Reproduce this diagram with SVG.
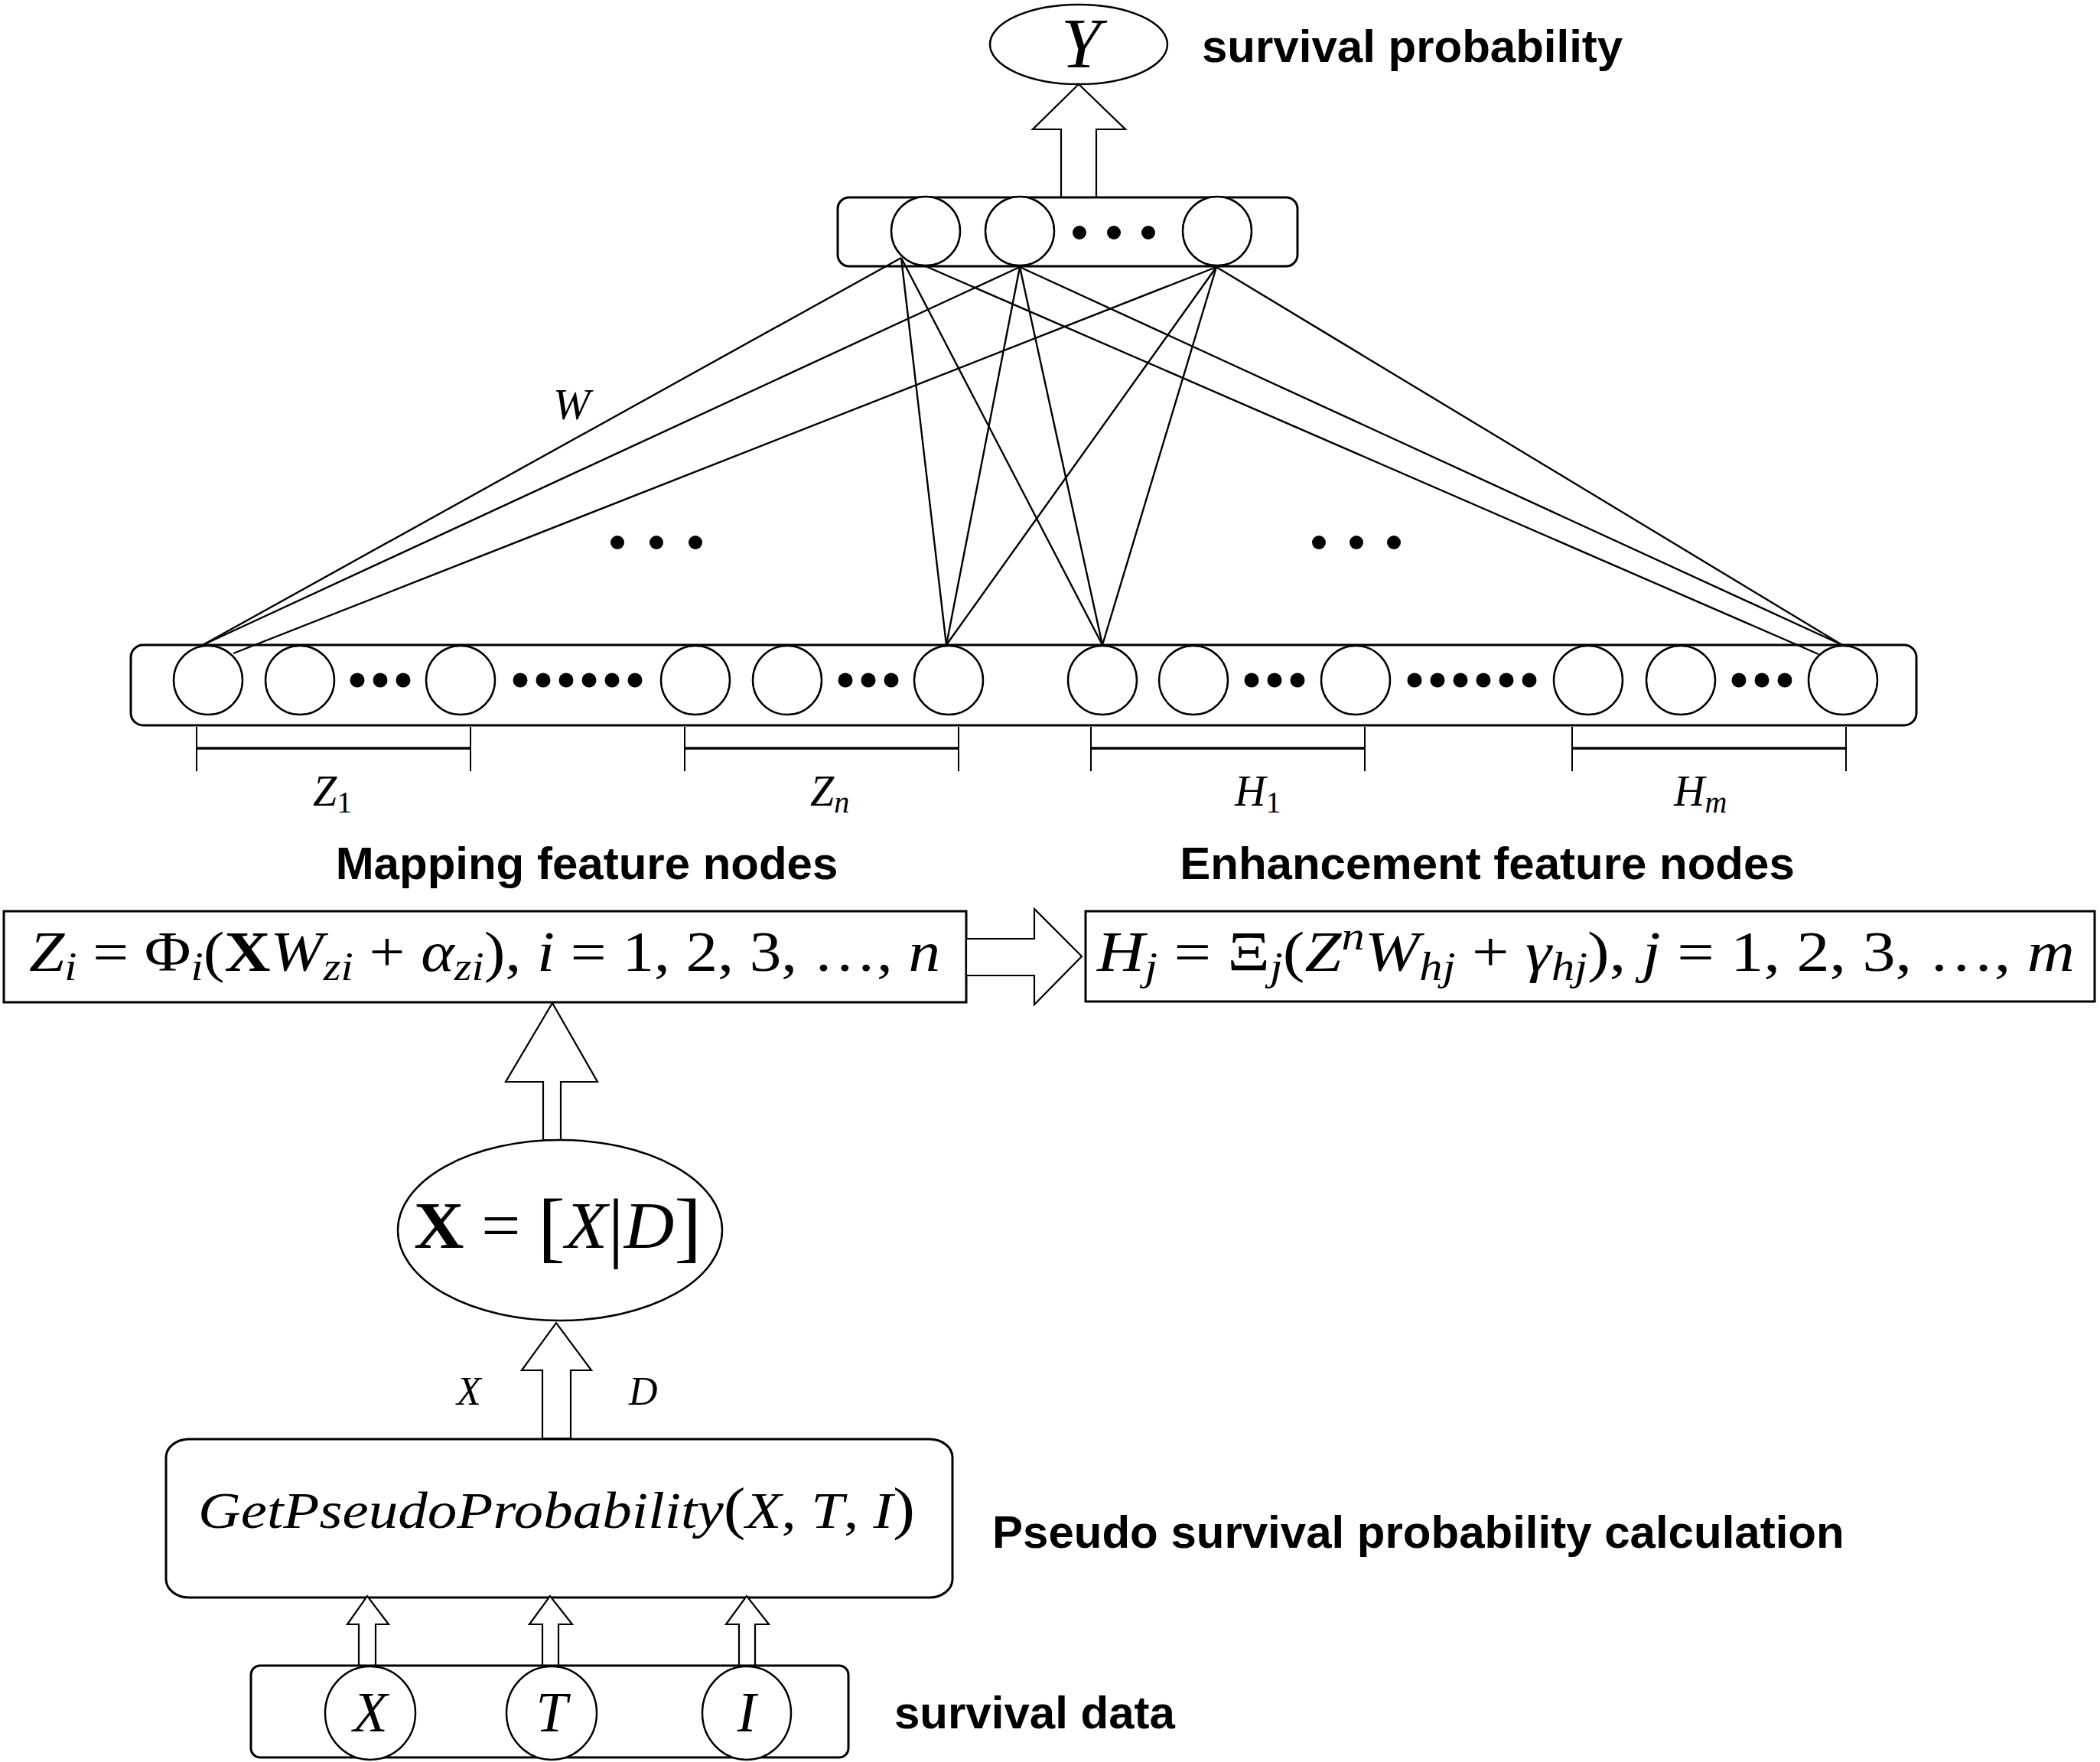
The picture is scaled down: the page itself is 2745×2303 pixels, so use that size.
<svg xmlns="http://www.w3.org/2000/svg" width="2745" height="2303" viewBox="0 0 2745 2303">
<style>
.bg{fill:#fff}
.box{fill:none;stroke:#000;stroke-width:3}
.node{fill:#fff;stroke:#000;stroke-width:2.5}
.dot{fill:#000}
.conn line{stroke:#000;stroke-width:2.4}
.arr{fill:#fff;stroke:#000;stroke-width:2.2;stroke-linejoin:miter}
.br{stroke:#000;stroke-width:2;fill:none}
.brh{stroke:#000;stroke-width:3.5}
.lbl{font-family:"Liberation Sans",Arial,sans-serif;font-weight:bold;font-size:60px;fill:#000}
.m{font-family:"Liberation Serif","Times New Roman",serif;fill:#000}
.it{font-style:italic}
</style>
<rect class="bg" x="0" y="0" width="2745" height="2303"/>

<g id="connectors" class="conn">
<line x1="1178" y1="337" x2="265" y2="843"/>
<line x1="1178" y1="337" x2="1237" y2="843"/>
<line x1="1178" y1="337" x2="1441" y2="843"/>
<line x1="1210" y1="348" x2="2377" y2="855"/>
<line x1="1333" y1="349" x2="265" y2="843"/>
<line x1="1333" y1="349" x2="1237" y2="843"/>
<line x1="1333" y1="349" x2="1441" y2="843"/>
<line x1="1333" y1="349" x2="2408" y2="843"/>
<line x1="1590" y1="349" x2="305" y2="854"/>
<line x1="1590" y1="349" x2="1237" y2="843"/>
<line x1="1590" y1="349" x2="1441" y2="843"/>
<line x1="1590" y1="349" x2="2408" y2="843"/>
</g>

<g id="connection-dots">
<circle class="dot" cx="807" cy="709" r="9"/>
<circle class="dot" cx="858" cy="709" r="9"/>
<circle class="dot" cx="909" cy="709" r="9"/>
<circle class="dot" cx="1724" cy="709" r="9"/>
<circle class="dot" cx="1773" cy="709" r="9"/>
<circle class="dot" cx="1822" cy="709" r="9"/>
<text class="m it" x="723" y="548" font-size="58">W</text>
</g>

<g id="output-Y">
<ellipse class="node" cx="1410" cy="58" rx="116" ry="52"/>
<text class="m it" x="1413" y="88" font-size="94" text-anchor="middle">Y</text>
<text class="lbl" x="1571" y="81">survival probability</text>
</g>

<g id="arrow-to-Y">
<polygon class="arr" points="1387,258 1387,169 1350,169 1410,110 1471,169 1433,169 1433,258"/>
</g>

<g id="output-layer">
<rect class="box" x="1095" y="258" width="601" height="90" rx="15"/>
<circle class="node" cx="1210" cy="302" r="45"/>
<circle class="node" cx="1333" cy="302" r="45"/>
<circle class="node" cx="1591" cy="302" r="45"/>
<circle class="dot" cx="1411" cy="304" r="9"/>
<circle class="dot" cx="1456" cy="304" r="9"/>
<circle class="dot" cx="1501" cy="304" r="9"/>
</g>

<g id="feature-layer">
<rect class="box" x="171" y="843" width="2334" height="105" rx="16"/>
<circle class="node" cx="272" cy="889" r="45"/>
<circle class="node" cx="392" cy="889" r="45"/>
<circle class="node" cx="602" cy="889" r="45"/>
<circle class="node" cx="909" cy="889" r="45"/>
<circle class="node" cx="1029" cy="889" r="45"/>
<circle class="node" cx="1240" cy="889" r="45"/>
<circle class="node" cx="1441" cy="889" r="45"/>
<circle class="node" cx="1560" cy="889" r="45"/>
<circle class="node" cx="1772" cy="889" r="45"/>
<circle class="node" cx="2076" cy="889" r="45"/>
<circle class="node" cx="2197" cy="889" r="45"/>
<circle class="node" cx="2409" cy="889" r="45"/>
<g>
<circle class="dot" cx="467" cy="889" r="9.5"/><circle class="dot" cx="497" cy="889" r="9.5"/><circle class="dot" cx="527" cy="889" r="9.5"/>
<circle class="dot" cx="680" cy="889" r="9.5"/><circle class="dot" cx="710" cy="889" r="9.5"/><circle class="dot" cx="740" cy="889" r="9.5"/><circle class="dot" cx="770" cy="889" r="9.5"/><circle class="dot" cx="800" cy="889" r="9.5"/><circle class="dot" cx="830" cy="889" r="9.5"/>
<circle class="dot" cx="1105" cy="889" r="9.5"/><circle class="dot" cx="1135" cy="889" r="9.5"/><circle class="dot" cx="1165" cy="889" r="9.5"/>
<circle class="dot" cx="1636" cy="889" r="9.5"/><circle class="dot" cx="1666" cy="889" r="9.5"/><circle class="dot" cx="1696" cy="889" r="9.5"/>
<circle class="dot" cx="1849" cy="889" r="9.5"/><circle class="dot" cx="1879" cy="889" r="9.5"/><circle class="dot" cx="1909" cy="889" r="9.5"/><circle class="dot" cx="1939" cy="889" r="9.5"/><circle class="dot" cx="1969" cy="889" r="9.5"/><circle class="dot" cx="1999" cy="889" r="9.5"/>
<circle class="dot" cx="2273" cy="889" r="9.5"/><circle class="dot" cx="2303" cy="889" r="9.5"/><circle class="dot" cx="2333" cy="889" r="9.5"/>
</g>
</g>

<g id="brackets">
<path class="br" d="M257,950 V1008 M615,950 V1008 M895,950 V1008 M1253,950 V1008 M1426,950 V1008 M1784,950 V1008 M2055,950 V1008 M2413,950 V1008"/>
<path class="brh" d="M257,978 H615 M895,978 H1253 M1426,978 H1784 M2055,978 H2413"/>
<text class="m it" x="409" y="1053" font-size="56">Z<tspan font-style="normal" font-size="40" dy="9">1</tspan></text>
<text class="m it" x="1059" y="1053" font-size="56">Z<tspan font-size="40" dy="9">n</tspan></text>
<text class="m it" x="1614" y="1053" font-size="56">H<tspan font-style="normal" font-size="40" dy="9">1</tspan></text>
<text class="m it" x="2188" y="1053" font-size="56">H<tspan font-size="40" dy="9">m</tspan></text>
</g>

<g id="labels">
<text class="lbl" x="767" y="1149" text-anchor="middle">Mapping feature nodes</text>
<text class="lbl" x="1944" y="1149" text-anchor="middle">Enhancement feature nodes</text>
</g>

<g id="mapping-formula">
<rect class="box" x="5" y="1191" width="1258" height="119"/>
<text class="m" x="38" y="1269" font-size="74" textLength="1191" lengthAdjust="spacingAndGlyphs"><tspan class="it">Z</tspan><tspan class="it" font-size="52" dy="12">i</tspan><tspan dy="-12"> = Φ</tspan><tspan class="it" font-size="52" dy="12">i</tspan><tspan dy="-12">(</tspan><tspan font-weight="bold">X</tspan><tspan class="it">W</tspan><tspan class="it" font-size="52" dy="12">zi</tspan><tspan dy="-12"> + </tspan><tspan class="it">α</tspan><tspan class="it" font-size="52" dy="12">zi</tspan><tspan dy="-12">), </tspan><tspan class="it">i</tspan><tspan> = 1, 2, 3, …, </tspan><tspan class="it">n</tspan></text>
</g>

<g id="arrow-right">
<polygon class="arr" points="1263,1227 1352,1227 1352,1188 1414,1250 1352,1313 1352,1275 1263,1275"/>
</g>

<g id="enhancement-formula">
<rect class="box" x="1419" y="1191" width="1319" height="118"/>
<text class="m" x="1434" y="1269" font-size="74" textLength="1278" lengthAdjust="spacingAndGlyphs"><tspan class="it">H</tspan><tspan class="it" font-size="52" dy="12">j</tspan><tspan dy="-12"> = Ξ</tspan><tspan class="it" font-size="52" dy="12">j</tspan><tspan dy="-12">(</tspan><tspan class="it">Z</tspan><tspan class="it" font-size="52" dy="-28">n</tspan><tspan class="it" dy="28">W</tspan><tspan class="it" font-size="52" dy="12">hj</tspan><tspan dy="-12"> + </tspan><tspan class="it">γ</tspan><tspan class="it" font-size="52" dy="12">hj</tspan><tspan dy="-12">), </tspan><tspan class="it">j</tspan><tspan> = 1, 2, 3, …, </tspan><tspan class="it">m</tspan></text>
</g>

<g id="arrow-to-mapping">
<polygon class="arr" points="710,1490 710,1414 661,1414 722,1311 781,1414 733,1414 733,1490"/>
</g>

<g id="input-X">
<ellipse class="node" cx="732" cy="1608" rx="212" ry="118"/>
<text class="m" x="541" y="1631" font-size="86" textLength="376" lengthAdjust="spacingAndGlyphs"><tspan font-weight="bold">X</tspan><tspan> = </tspan><tspan font-size="102" dy="6">[</tspan><tspan class="it" dy="-6">X</tspan><tspan font-size="102" dy="6">|</tspan><tspan class="it" dy="-6">D</tspan><tspan font-size="102" dy="6">]</tspan></text>
</g>

<g id="arrow-to-X">
<polygon class="arr" points="709,1880 709,1791 682,1791 727,1729 773,1791 746,1791 746,1880"/>
<text class="m it" x="597" y="1836" font-size="52">X</text>
<text class="m it" x="822" y="1836" font-size="52">D</text>
</g>

<g id="pseudo">
<rect class="box" x="217" y="1881" width="1028" height="207" rx="30" ry="24"/>
<text class="m" x="259" y="1997" font-size="68" textLength="937" lengthAdjust="spacingAndGlyphs"><tspan class="it">GetPseudoProbability</tspan><tspan font-size="76">(</tspan><tspan class="it">X</tspan><tspan>, </tspan><tspan class="it">T</tspan><tspan>, </tspan><tspan class="it">I</tspan><tspan font-size="76">)</tspan></text>
<text class="lbl" x="1297" y="2023">Pseudo survival probability calculation</text>
</g>

<g id="arrows-from-data">
<polygon class="arr" points="469,2177 469,2123 454,2123 480,2086 508,2123 491,2123 491,2177"/>
<polygon class="arr" points="709,2177 709,2123 692,2123 719,2086 748,2123 730,2123 730,2177"/>
<polygon class="arr" points="966,2177 966,2123 949,2123 976,2086 1005,2123 987,2123 987,2177"/>
</g>

<g id="survival-data">
<rect class="box" x="328" y="2177" width="781" height="120" rx="12"/>
<ellipse class="node" cx="484" cy="2239" rx="59" ry="61"/>
<ellipse class="node" cx="721" cy="2239" rx="59" ry="61"/>
<ellipse class="node" cx="976" cy="2239" rx="58" ry="61"/>
<text class="m it" x="484" y="2263" font-size="74" text-anchor="middle">X</text>
<text class="m it" x="721" y="2263" font-size="74" text-anchor="middle">T</text>
<text class="m it" x="976" y="2263" font-size="74" text-anchor="middle">I</text>
<text class="lbl" x="1169" y="2259">survival data</text>
</g>
</svg>
